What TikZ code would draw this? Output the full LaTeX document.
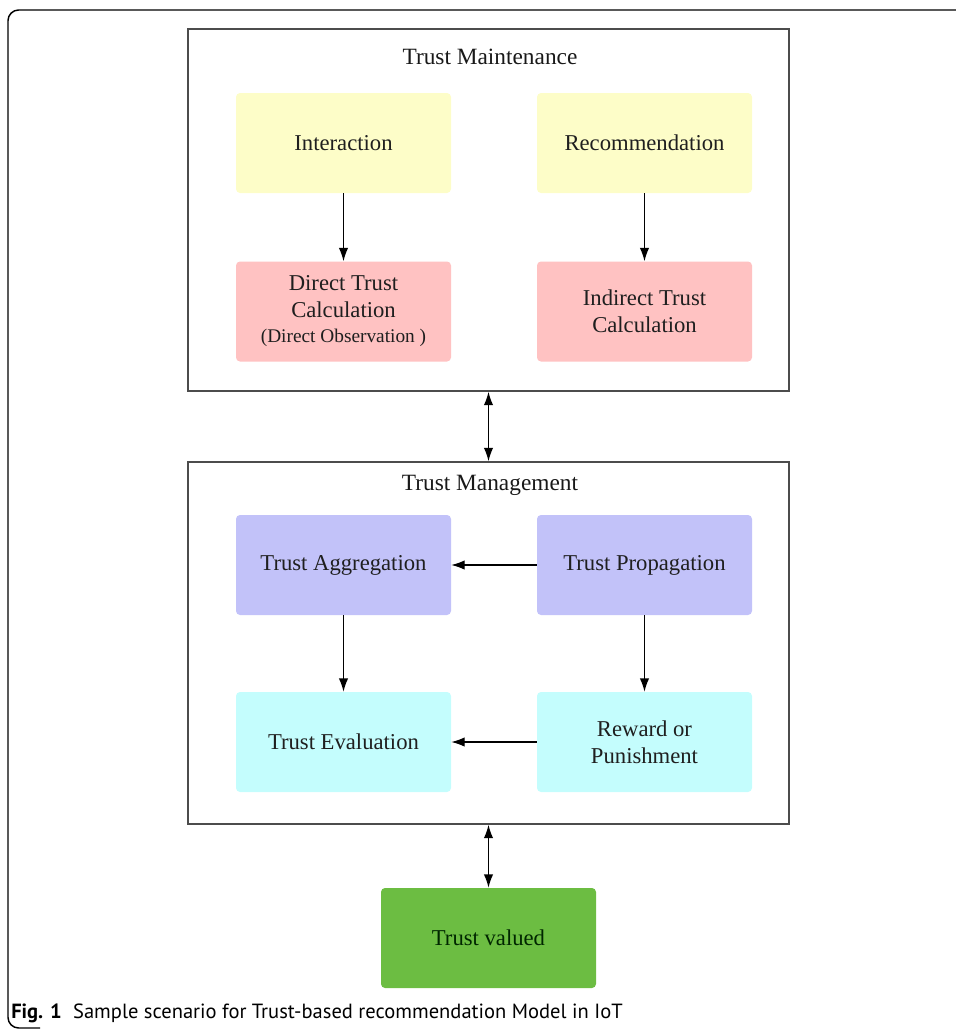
\documentclass[tikz,border=0pt]{standalone}
\usepackage{fontspec}
\setmainfont{Liberation Serif}
\newfontfamily\capfont{PT Sans}
\usetikzlibrary{arrows.meta}
\definecolor{tyellow}{HTML}{FDFDC8}
\definecolor{tpink}{HTML}{FFC2C2}
\definecolor{tlav}{HTML}{C2C2F9}
\definecolor{tcyan}{HTML}{C4FDFD}
\definecolor{tgreen}{HTML}{6CBD42}
\tikzset{
	tbox/.style={rounded corners=3pt, minimum width=161.25pt, minimum height=75pt, inner sep=0pt, align=center, text=black!88, font=\fontsize{17}{20}\selectfont},
	frame/.style={draw=black!70, line width=1.2pt, minimum width=450.75pt, minimum height=271.5pt, inner sep=0pt},
	title/.style={font=\fontsize{17.5}{20}\selectfont, text=black!90},
	arr/.style={-{Latex[length=10pt,width=7pt]}, line width=0.9pt},
	darr/.style={{Latex[length=10pt,width=7pt]}-{Latex[length=10pt,width=7pt]}, line width=0.9pt},
}

\begin{document}
\begin{tikzpicture}[x=0.75pt, y=-0.75pt]
	%%%%% START %%%%%
	\useasboundingbox (0, 0) rectangle (956, 1029);
	
	% outer figure frame
	\draw[line width=1.1pt, rounded corners=8pt] (960, 10) -- (8, 10) -- (8, 1028) -- (40, 1028);
	
	% trust maintenance
	\node[frame] (maint) at (488.5, 210) {};
	\node[title] (mainttitle) at (490, 57) {Trust Maintenance};
	\node[tbox, fill=tyellow] (inter) at (343.5, 143) {Interaction};
	\node[tbox, fill=tyellow] (recom) at (644.5, 143) {Recommendation};
	\node[tbox, fill=tpink] (direct) at (343.5, 311.5) {Direct Trust\\Calculation\\[-1pt]{\fontsize{14.5}{17}\selectfont (Direct Observation )}};
	\node[tbox, fill=tpink] (indirect) at (644.5, 311.5) {Indirect Trust\\Calculation};
	
	\draw[arr] (inter) -- (direct);
	\draw[arr] (recom) -- (indirect);
	
	% trust management
	\node[frame] (mgmt) at (488.5, 643) {};
	\node[title] (mgmttitle) at (490, 485) {Trust Management};
	\node[tbox, fill=tlav] (aggr) at (343.5, 565) {Trust Aggregation};
	\node[tbox, fill=tlav] (prop) at (644.5, 565) {Trust Propagation};
	\node[tbox, fill=tcyan] (eval) at (343.5, 742) {Trust Evaluation};
	\node[tbox, fill=tcyan] (reward) at (644.5, 742) {Reward or\\Punishment};
	
	\draw[arr] (prop) -- (aggr);
	\draw[arr] (aggr) -- (eval);
	\draw[arr] (prop) -- (reward);
	\draw[arr] (reward) -- (eval);
	
	% result
	\node[tbox, fill=tgreen, text=black!85!green] (valued) at (488.5, 938) {Trust valued};
	
	\draw[darr] (maint.south) -- (mgmt.north);
	\draw[darr] (mgmt.south) -- (valued.north);
	
	% caption
	\node[anchor=base west, inner sep=0pt, font=\capfont\fontsize{15.4}{18}\selectfont] (caption) at (11, 1018) {\textbf{Fig. 1}\hspace{0.55em}Sample scenario for Trust-based recommendation Model in IoT};
	%%%%% END %%%%%
\end{tikzpicture}
\end{document}
